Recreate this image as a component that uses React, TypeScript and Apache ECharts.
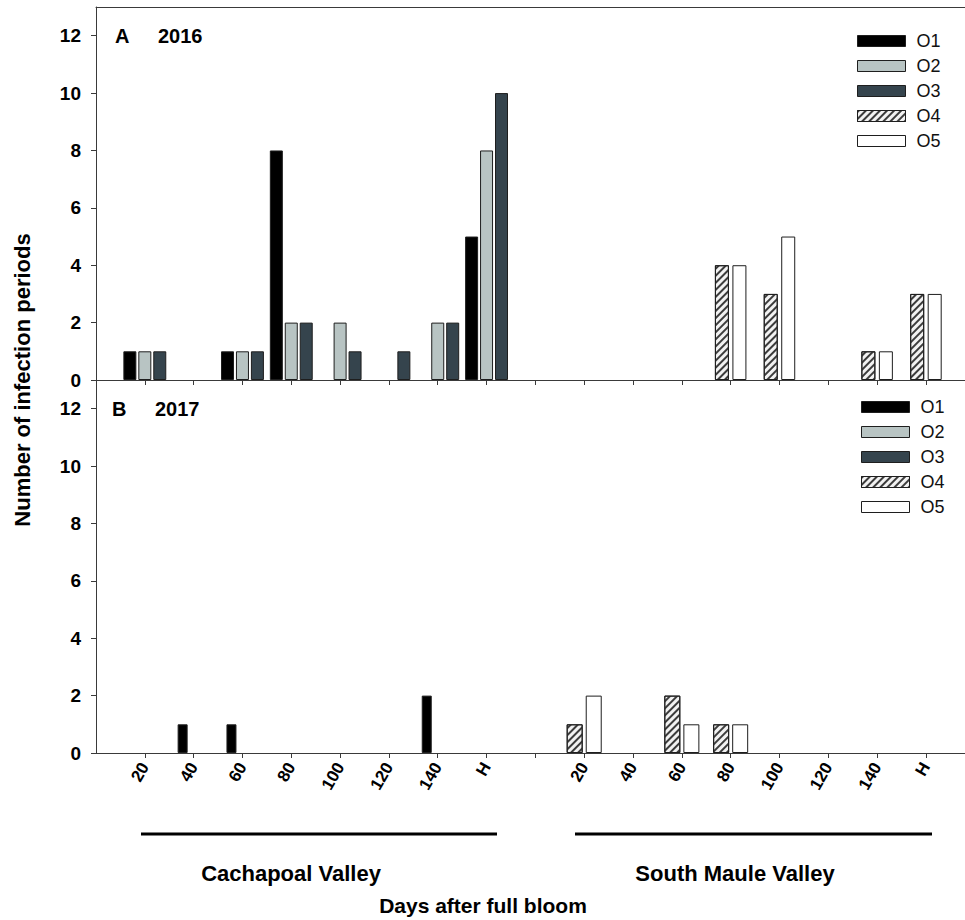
import React, { useEffect, useRef } from "react";
import * as echarts from "echarts";

// ---- data ----
const dayLabels = ["20", "40", "60", "80", "100", "120", "140", "H"];
const seriesNames = ["O1", "O2", "O3", "O4", "O5"];
const yTickValues = [0, 2, 4, 6, 8, 10, 12];

// 2016 (panel A) — Cachapoal Valley: O1..O3, South Maule Valley: O4..O5
const o1_2016 = [1, 0, 1, 8, 0, 0, 0, 5];
const o2_2016 = [1, 0, 1, 2, 2, 0, 2, 8];
const o3_2016 = [1, 0, 1, 2, 1, 1, 2, 10];
const o4_2016 = [0, 0, 0, 4, 3, 0, 1, 3];
const o5_2016 = [0, 0, 0, 4, 5, 0, 1, 3];

// 2017 (panel B)
const o1_2017 = [0, 1, 1, 0, 0, 0, 2, 0];
const o2_2017 = [0, 0, 0, 0, 0, 0, 0, 0];
const o3_2017 = [0, 0, 0, 0, 0, 0, 0, 0];
const o4_2017 = [1, 0, 2, 1, 0, 0, 0, 0];
const o5_2017 = [2, 0, 1, 1, 0, 0, 0, 0];

const regionNames = ["Cachapoal Valley", "South Maule Valley"];

// ---- helpers ----
const FONT = "'Liberation Sans', Arial, Helvetica, sans-serif";
const CACH_OFFSET = 1; // position of first Cachapoal slot on x axis
const SOUTH_OFFSET = 10; // position of first South Maule slot
const X_MAX = 17.8;

const xTickPositions: number[] = [];
for (let i = 1; i <= 17; i++) xTickPositions.push(i);
const xLabelPositions = dayLabels
  .map((_, i) => i + CACH_OFFSET)
  .concat(dayLabels.map((_, i) => i + SOUTH_OFFSET));

function toData(values: number[], offset: number) {
  const out: number[][] = [];
  values.forEach((v, i) => {
    if (v > 0) out.push([i + offset, v]);
  });
  return out;
}

function xLabelFormatter(v: number) {
  const r = Math.round(v);
  if (r >= CACH_OFFSET && r < CACH_OFFSET + dayLabels.length) return dayLabels[r - CACH_OFFSET];
  if (r >= SOUTH_OFFSET && r < SOUTH_OFFSET + dayLabels.length) return dayLabels[r - SOUTH_OFFSET];
  return "";
}

const AXIS_COLOR = "#3a3a3a";
const BORDER = "#1e1e1e";

const styles: any[] = [
  { color: "#000000" },
  { color: "#b8c4c3" },
  { color: "#35444d" },
  {
    color: "#f2f2f2",
    decal: {
      symbol: "rect",
      symbolSize: 1,
      color: "#3c3c3c",
      dashArrayX: [1, 0],
      dashArrayY: [1.5, 2.3],
      rotation: -Math.PI / 4,
    },
  },
  { color: "#ffffff" },
];

export default function App() {
  const ref = useRef<HTMLDivElement>(null);

  useEffect(() => {
    if (!ref.current) return;
    const chart = echarts.init(ref.current, undefined, { renderer: "svg" });

    const yAxisCfg = (gridIndex: number) => ({
      type: "value",
      gridIndex,
      min: 0,
      max: 13,
      axisLine: { show: true, onZero: false, lineStyle: { color: AXIS_COLOR, width: 1 } },
      axisTick: {
        show: true,
        inside: false,
        length: 5,
        lineStyle: { color: AXIS_COLOR, width: 1 },
        customValues: yTickValues,
      },
      axisLabel: {
        show: true,
        margin: 15,
        fontSize: 19,
        fontWeight: "bold",
        color: "#000",
        fontFamily: FONT,
        customValues: yTickValues,
      },
      splitLine: { show: false },
    });

    const mainXAxis = (gridIndex: number, showLabels: boolean) => ({
      type: "value",
      gridIndex,
      min: 0,
      max: X_MAX,
      position: "bottom",
      axisLine: { show: true, onZero: false, lineStyle: { color: AXIS_COLOR, width: 1 } },
      axisTick: {
        show: true,
        inside: false,
        length: 5,
        lineStyle: { color: AXIS_COLOR, width: 1 },
        customValues: xTickPositions,
      },
      axisLabel: {
        show: showLabels,
        customValues: xLabelPositions,
        formatter: xLabelFormatter,
        rotate: 60,
        margin: 11,
        fontSize: 17,
        fontWeight: "bold",
        color: "#000",
        fontFamily: FONT,
      },
      splitLine: { show: false },
    });

    const secondXAxis = (gridIndex: number, showLine: boolean) => ({
      type: "value",
      gridIndex,
      min: 0,
      max: X_MAX,
      position: "top",
      axisLine: { show: showLine, onZero: false, lineStyle: { color: AXIS_COLOR, width: 1 } },
      axisTick: { show: false },
      axisLabel: { show: false },
      splitLine: { show: false },
    });

    const barSeries = (
      name: string,
      idx: number,
      values: number[],
      offset: number,
      xAxisIndex: number,
      yAxisIndex: number,
      barWidth: number,
      barGap: string
    ) => ({
      type: "bar",
      name,
      xAxisIndex,
      yAxisIndex,
      data: toData(values, offset),
      barWidth,
      barGap,
      itemStyle: { ...styles[idx], borderColor: BORDER, borderWidth: 1 },
      emphasis: { disabled: true },
    });

    const legendCfg = (left: number, top: number) => ({
      orient: "vertical",
      left,
      top,
      padding: 0,
      itemWidth: 48,
      itemHeight: 11,
      itemGap: 7,
      icon: "rect",
      selectedMode: false,
      data: seriesNames,
      itemStyle: { borderColor: BORDER, borderWidth: 1 },
      textStyle: {
        fontSize: 18,
        lineHeight: 18,
        color: "#111",
        fontFamily: FONT,
        padding: [0, 0, 0, 6],
      },
    });

    const textEl = (text: string, x: number, y: number, size: number, align = "left", rotation = 0) => ({
      type: "text",
      x,
      y,
      rotation,
      style: {
        text,
        fontSize: size,
        fontWeight: "bold",
        fontFamily: FONT,
        fill: "#000",
        align,
        verticalAlign: "middle",
      },
    });

    const option: any = {
      animation: false,
      backgroundColor: "#ffffff",
      grid: [
        { left: 96, right: 0, top: 7, height: 373, containLabel: false, outerBoundsMode: "none" },
        { left: 96, right: 0, top: 380, height: 373, containLabel: false, outerBoundsMode: "none" },
      ],
      xAxis: [mainXAxis(0, false), secondXAxis(0, true), mainXAxis(1, true), secondXAxis(1, false)],
      yAxis: [yAxisCfg(0), yAxisCfg(1)],
      legend: [legendCfg(857, 32), legendCfg(861, 398)],
      series: [
        barSeries("O1", 0, o1_2016, CACH_OFFSET, 0, 0, 13, "15%"),
        barSeries("O2", 1, o2_2016, CACH_OFFSET, 0, 0, 13, "15%"),
        barSeries("O3", 2, o3_2016, CACH_OFFSET, 0, 0, 13, "15%"),
        barSeries("O4", 3, o4_2016, SOUTH_OFFSET, 1, 0, 14, "25%"),
        barSeries("O5", 4, o5_2016, SOUTH_OFFSET, 1, 0, 14, "25%"),
        barSeries("O1", 0, o1_2017, CACH_OFFSET, 2, 1, 10, "10%"),
        barSeries("O2", 1, o2_2017, CACH_OFFSET, 2, 1, 10, "10%"),
        barSeries("O3", 2, o3_2017, CACH_OFFSET, 2, 1, 10, "10%"),
        barSeries("O4", 3, o4_2017, SOUTH_OFFSET, 3, 1, 16, "19%"),
        barSeries("O5", 4, o5_2017, SOUTH_OFFSET, 3, 1, 16, "19%"),
      ],
      graphic: [
        textEl("A", 115, 36, 20),
        textEl("2016", 158, 36, 20),
        textEl("B", 112, 409, 20),
        textEl("2017", 155, 409, 20),
        textEl("Number of infection periods", 22, 380, 22, "center", Math.PI / 2),
        {
          type: "line",
          shape: { x1: 141, y1: 834, x2: 497, y2: 834 },
          style: { stroke: "#000", lineWidth: 3 },
        },
        {
          type: "line",
          shape: { x1: 575, y1: 834, x2: 932, y2: 834 },
          style: { stroke: "#000", lineWidth: 3 },
        },
        textEl(regionNames[0], 291, 873, 22, "center"),
        textEl(regionNames[1], 735, 873, 22, "center"),
        textEl("Days after full bloom", 483, 905, 21, "center"),
      ],
    };

    chart.setOption(option);
    return () => chart.dispose();
  }, []);

  return (
    <div
      ref={ref}
      style={{ position: "absolute", left: 0, top: 0, width: 965, height: 920, background: "#fff" }}
    />
  );
}
